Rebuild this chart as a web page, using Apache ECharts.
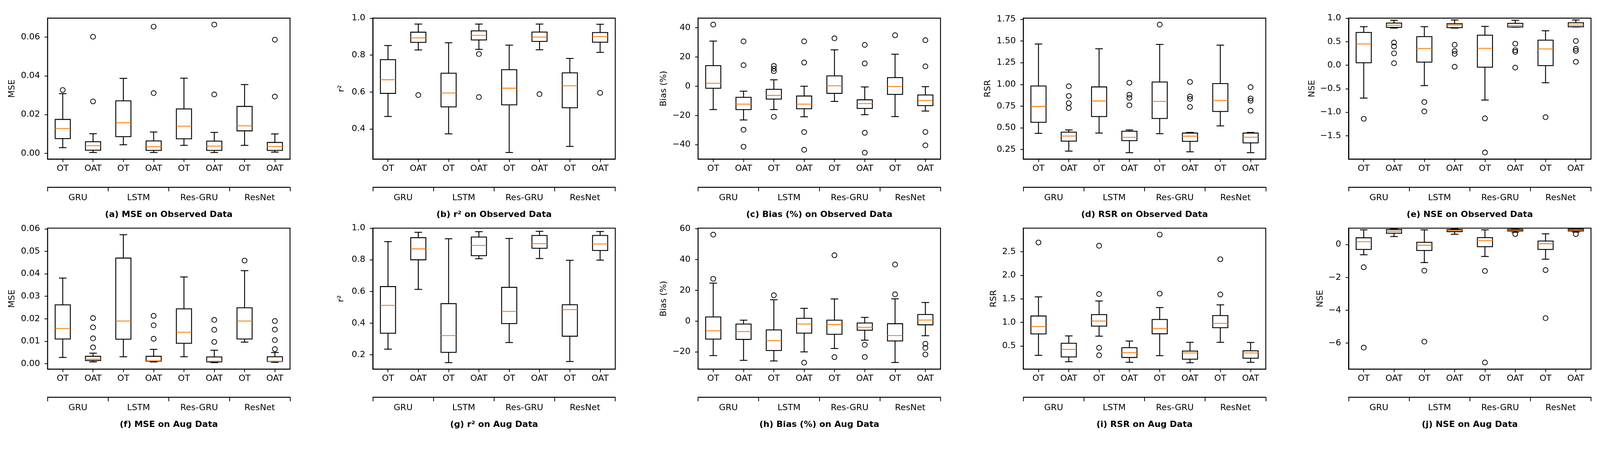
<!DOCTYPE html>
<html>
<head>
<meta charset="utf-8">
<script src="https://cdn.jsdelivr.net/npm/echarts@6/dist/echarts.min.js"></script>
<style>
html,body{margin:0;padding:0;background:#fff;overflow:hidden;}
#chart{width:100vw;height:100vh;}
</style>
</head>
<body>
<div id="chart"></div>
<script>
// ---------------- DATA ----------------
const categories = ['OT','OAT','OT','OAT','OT','OAT','OT','OAT'];
const groups = ['GRU','LSTM','Res-GRU','ResNet'];

// each box: [lower whisker, Q1, median, Q3, upper whisker]
const mseObsBox = [
  [0.0029,0.0076,0.0128,0.0175,0.0308],[0.0004,0.0016,0.0039,0.0060,0.0101],
  [0.0044,0.0086,0.0158,0.0271,0.0387],[0.0004,0.0015,0.0034,0.0064,0.0110],
  [0.0041,0.0075,0.0140,0.0229,0.0388],[0.0004,0.0015,0.0037,0.0063,0.0108],
  [0.0041,0.0116,0.0142,0.0242,0.0355],[0.0006,0.0015,0.0035,0.0056,0.0100]];
const mseObsOut = [[0,0.0327],[1,0.0268],[1,0.0602],[3,0.0311],[3,0.0654],[5,0.0304],[5,0.0665],[7,0.0293],[7,0.0587]];
const mseObsTicks = [0,0.02,0.04,0.06];

const r2ObsBox = [
  [0.468,0.593,0.667,0.7755,0.852],[0.828,0.869,0.893,0.924,0.968],
  [0.374,0.520,0.595,0.702,0.867],[0.831,0.882,0.907,0.931,0.968],
  [0.273,0.531,0.621,0.721,0.854],[0.829,0.874,0.898,0.925,0.968],
  [0.306,0.515,0.634,0.704,0.782],[0.815,0.870,0.900,0.922,0.967]];
const r2ObsOut = [[1,0.584],[3,0.806],[3,0.573],[5,0.589],[7,0.596]];
const r2ObsTicks = [0.4,0.6,0.8,1.0];

const biasObsBox = [
  [-16.0,-1.4,2.0,14.1,30.9],[-23.1,-16.0,-12.3,-7.6,-3.4],
  [-16.0,-8.8,-6.3,-2.1,4.4],[-20.9,-15.4,-12.3,-6.7,0.0],
  [-10.4,-4.9,0.3,7.1,24.9],[-19.5,-15.2,-11.9,-9.3,-0.5],
  [-20.8,-5.6,-0.2,5.9,21.9],[-17.0,-13.3,-9.8,-6.0,-0.3]];
const biasObsOut = [[0,42.2],[1,30.7],[1,14.4],[1,-29.8],[1,-41.4],[2,13.9],[2,12.0],[2,10.3],[2,-20.9],
  [3,30.7],[3,16.2],[3,-31.4],[3,-43.5],[4,32.8],[5,28.3],[5,15.6],[5,-31.9],[5,-45.5],
  [6,34.9],[7,31.5],[7,13.6],[7,-31.3],[7,-40.5]];
const biasObsTicks = [-40,-20,0,20,40];

const rsrObsBox = [
  [0.436,0.563,0.746,0.982,1.466],[0.231,0.346,0.405,0.450,0.475],
  [0.439,0.630,0.809,0.971,1.411],[0.213,0.352,0.390,0.460,0.475],
  [0.432,0.607,0.804,1.028,1.461],[0.223,0.344,0.403,0.439,0.447],
  [0.522,0.688,0.815,1.010,1.453],[0.213,0.326,0.391,0.439,0.447]];
const rsrObsOut = [[1,0.979],[1,0.867],[1,0.784],[1,0.728],[3,1.020],[3,0.881],[3,0.845],[3,0.760],
  [4,1.690],[5,1.029],[5,0.861],[5,0.833],[5,0.740],[7,0.969],[7,0.838],[7,0.812],[7,0.697]];
const rsrObsTicks = [0.25,0.5,0.75,1.0,1.25,1.5,1.75];

const nseObsBox = [
  [-0.699,0.051,0.452,0.696,0.819],[0.789,0.804,0.849,0.895,0.955],
  [-0.434,0.066,0.355,0.608,0.819],[0.789,0.798,0.855,0.883,0.961],
  [-0.741,-0.042,0.358,0.639,0.825],[0.810,0.813,0.846,0.889,0.955],
  [-0.373,-0.009,0.346,0.533,0.732],[0.813,0.816,0.852,0.901,0.961]];
const nseObsOut = [[0,-1.139],[1,0.482],[1,0.398],[1,0.253],[1,0.042],[2,-0.783],[2,-0.982],
  [3,0.434],[3,0.301],[3,0.241],[3,-0.033],[4,-1.130],[4,-1.855],[5,0.458],[5,0.319],[5,0.283],[5,-0.051],
  [6,-1.105],[7,0.515],[7,0.349],[7,0.307],[7,0.072]];
const nseObsTicks = [-1.5,-1.0,-0.5,0,0.5,1.0];

const mseAugBox = [
  [0.0028,0.0110,0.0157,0.0262,0.0381],[0.0008,0.0014,0.0020,0.0033,0.0047],
  [0.0031,0.0109,0.0190,0.0470,0.0574],[0.0008,0.0011,0.0013,0.0033,0.0064],
  [0.0031,0.0091,0.0140,0.0244,0.0386],[0.0005,0.0008,0.0011,0.0030,0.0060],
  [0.0096,0.0110,0.0190,0.0249,0.0414],[0.0006,0.0010,0.0011,0.0031,0.0050]];
const mseAugOut = [[1,0.0073],[1,0.0113],[1,0.0162],[1,0.0203],[3,0.0111],[3,0.0171],[3,0.0213],
  [5,0.0097],[5,0.0151],[5,0.0195],[6,0.0459],[7,0.0065],[7,0.0105],[7,0.0152],[7,0.0190]];
const mseAugTicks = [0,0.01,0.02,0.03,0.04,0.05,0.06];

const r2AugBox = [
  [0.235,0.336,0.512,0.631,0.915],[0.613,0.800,0.869,0.940,0.974],
  [0.150,0.215,0.321,0.523,0.933],[0.807,0.826,0.891,0.944,0.978],
  [0.277,0.397,0.474,0.626,0.935],[0.808,0.873,0.902,0.954,0.980],
  [0.157,0.317,0.485,0.516,0.797],[0.798,0.859,0.900,0.954,0.979]];
const r2AugOut = [];
const r2AugTicks = [0.2,0.4,0.6,0.8,1.0];

const biasAugBox = [
  [-22.4,-11.7,-6.3,2.7,24.7],[-25.5,-11.9,-6.8,-1.9,0.6],
  [-25.9,-19.1,-12.7,-5.7,13.9],[-20.0,-7.8,-1.9,1.8,8.3],
  [-17.8,-8.6,-2.2,0.6,14.4],[-12.4,-5.9,-4.0,-1.2,2.4],
  [-26.9,-12.9,-9.4,-1.7,14.5],[-9.5,-2.4,0.7,4.3,12.1]];
const biasAugOut = [[0,27.5],[0,56.2],[2,16.8],[3,-27.0],[4,42.8],[4,-23.4],[5,-15.4],[5,-23.3],
  [6,17.4],[6,36.8],[7,-14.7],[7,-17.4],[7,-21.7]];
const biasAugTicks = [-20,0,20,40,60];

const rsrAugBox = [
  [0.301,0.756,0.913,1.136,1.542],[0.166,0.268,0.428,0.557,0.714],
  [0.708,0.922,1.030,1.166,1.455],[0.154,0.256,0.358,0.464,0.605],
  [0.295,0.759,0.870,1.063,1.316],[0.145,0.220,0.352,0.392,0.578],
  [0.578,0.889,0.979,1.145,1.373],[0.154,0.241,0.352,0.398,0.575]];
const rsrAugOut = [[0,2.696],[2,1.602],[2,2.627],[2,0.461],[2,0.304],[4,1.611],[4,2.864],[6,1.593],[6,2.340]];
const rsrAugTicks = [0.5,1.0,1.5,2.0,2.5];

const nseAugBox = [
  [-0.622,-0.294,0.173,0.415,0.898],[0.49,0.69,0.81,0.92,0.96],
  [-1.097,-0.363,-0.043,0.138,0.898],[0.63,0.79,0.87,0.92,0.95],
  [-0.725,-0.130,0.242,0.423,0.898],[0.75,0.83,0.88,0.93,0.97],
  [-0.889,-0.294,0.052,0.216,0.656],[0.76,0.83,0.88,0.94,0.97]];
const nseAugOut = [[0,-1.382],[0,-6.278],[2,-1.589],[2,-5.915],[4,-1.606],[4,-7.185],[5,0.64],
  [6,-1.554],[6,-4.482],[7,0.64]];
const nseAugTicks = [-6,-4,-2,0];

const panels = [
  {box:mseObsBox, out:mseObsOut, ticks:mseObsTicks, dec:2, yMin:-0.0030, yMax:0.0698, yName:'MSE', title:'(a) MSE on Observed Data'},
  {box:r2ObsBox, out:r2ObsOut, ticks:r2ObsTicks, dec:1, yMin:0.2374, yMax:1.0, yName:'r\u00B2', title:'(b) r\u00B2 on Observed Data'},
  {box:biasObsBox, out:biasObsOut, ticks:biasObsTicks, dec:0, yMin:-49.9, yMax:46.6, yName:'Bias (%)', title:'(c) Bias (%) on Observed Data'},
  {box:rsrObsBox, out:rsrObsOut, ticks:rsrObsTicks, dec:2, yMin:0.139, yMax:1.764, yName:'RSR', title:'(d) RSR on Observed Data'},
  {box:nseObsBox, out:nseObsOut, ticks:nseObsTicks, dec:1, yMin:-1.996, yMax:1.0, yName:'NSE', title:'(e) NSE on Observed Data'},
  {box:mseAugBox, out:mseAugOut, ticks:mseAugTicks, dec:2, yMin:-0.0024, yMax:0.0603, yName:'MSE', title:'(f) MSE on Aug Data'},
  {box:r2AugBox, out:r2AugOut, ticks:r2AugTicks, dec:1, yMin:0.109, yMax:1.0, yName:'r\u00B2', title:'(g) r\u00B2 on Aug Data'},
  {box:biasAugBox, out:biasAugOut, ticks:biasAugTicks, dec:0, yMin:-31.2, yMax:60.4, yName:'Bias (%)', title:'(h) Bias (%) on Aug Data'},
  {box:rsrAugBox, out:rsrAugOut, ticks:rsrAugTicks, dec:1, yMin:0.009, yMax:3.0, yName:'RSR', title:'(i) RSR on Aug Data'},
  {box:nseAugBox, out:nseAugOut, ticks:nseAugTicks, dec:0, yMin:-7.59, yMax:1.0, yName:'NSE', title:'(j) NSE on Aug Data'}
];

// ---------------- LAYOUT ----------------
const el = document.getElementById('chart');
const chart = echarts.init(el, null, {renderer:'canvas'});
const s = Math.min(chart.getWidth() / 4270, chart.getHeight() / 1171);
const FONT = 'DejaVu Sans';
const FS = 23 * s;
const plotLeft0 = 127, colStep = 868, plotW = 647;
const rowTops = [48.5, 609.5], plotH = 376.5;
const yNameGaps = [83, 72, 80, 83, 86, 83, 73, 80, 67, 64];
const LW = 2.4 * s;

function fmt(dec){
  return function(v){
    const t = Math.abs(v).toFixed(dec);
    return (v < 0 && parseFloat(t) !== 0 ? '\u2212' : '') + t;
  };
}

function renderBox(params, api){
  const i = api.value(0);
  const lo = api.coord([i, api.value(1)]);
  const q1 = api.coord([i, api.value(2)]);
  const md = api.coord([i, api.value(3)]);
  const q3 = api.coord([i, api.value(4)]);
  const hi = api.coord([i, api.value(5)]);
  const bw = api.size([1, 0])[0] * 0.5;
  const cx = lo[0];
  const cap = bw / 2;
  const blk = {stroke:'#000', lineWidth:LW, fill:null};
  return {
    type:'group',
    children:[
      {type:'line', shape:{x1:cx, y1:q1[1], x2:cx, y2:lo[1]}, style:blk},
      {type:'line', shape:{x1:cx, y1:q3[1], x2:cx, y2:hi[1]}, style:blk},
      {type:'line', shape:{x1:cx-cap/2, y1:lo[1], x2:cx+cap/2, y2:lo[1]}, style:blk},
      {type:'line', shape:{x1:cx-cap/2, y1:hi[1], x2:cx+cap/2, y2:hi[1]}, style:blk},
      {type:'rect', shape:{x:cx-bw/2, y:q3[1], width:bw, height:q1[1]-q3[1]}, style:{stroke:'#000', lineWidth:LW, fill:'rgba(0,0,0,0)'}},
      {type:'line', shape:{x1:cx-bw/2, y1:md[1], x2:cx+bw/2, y2:md[1]}, style:{stroke:'#ff7f0e', lineWidth:LW}}
    ]
  };
}

const grid = [], xAxis = [], yAxis = [], series = [], graphic = [];
panels.forEach((p, k) => {
  const r = Math.floor(k / 5), c = k % 5;
  const left = (plotLeft0 + c * colStep) * s, top = rowTops[r] * s;
  const w = plotW * s, h = plotH * s;
  grid.push({left:left, top:top, width:w, height:h, show:true, borderColor:'#000', borderWidth:LW, backgroundColor:'#fff'});
  xAxis.push({
    type:'category', gridIndex:k, data:categories, boundaryGap:true,
    axisLine:{show:true, onZero:false, lineStyle:{color:'#000', width:LW}},
    axisTick:{show:true, alignWithLabel:true, length:8*s, lineStyle:{color:'#000', width:2*s}},
    axisLabel:{interval:0, color:'#000', fontFamily:FONT, fontSize:FS, margin:14*s},
    splitLine:{show:false}
  });
  xAxis.push({
    type:'category', gridIndex:k, data:groups, boundaryGap:true, position:'bottom', offset:75*s,
    axisLine:{show:true, onZero:false, lineStyle:{color:'#000', width:LW}},
    axisTick:{show:true, alignWithLabel:false, interval:0, length:11*s, lineStyle:{color:'#000', width:2*s}},
    axisLabel:{interval:0, color:'#000', fontFamily:FONT, fontSize:FS, margin:17*s},
    splitLine:{show:false}
  });
  yAxis.push({
    type:'value', gridIndex:k, min:p.yMin, max:p.yMax,
    name:p.yName, nameLocation:'middle', nameRotate:90, nameGap:yNameGaps[k]*s,
    nameTextStyle:{color:'#000', fontFamily:FONT, fontSize:FS},
    axisLine:{show:true, onZero:false, lineStyle:{color:'#000', width:LW}},
    axisTick:{show:true, length:8*s, customValues:p.ticks, lineStyle:{color:'#000', width:2*s}},
    axisLabel:{customValues:p.ticks, formatter:fmt(p.dec), color:'#000', fontFamily:FONT, fontSize:FS, margin:20*s},
    splitLine:{show:false}
  });
  series.push({
    type:'custom', xAxisIndex:2*k, yAxisIndex:k, renderItem:renderBox,
    data:p.box.map((b, i) => [i].concat(b)),
    encode:{x:0, y:[1,2,3,4,5]}, z:2, silent:true
  });
  series.push({
    type:'scatter', xAxisIndex:2*k, yAxisIndex:k, data:p.out,
    symbol:'circle', symbolSize:13*s, z:3, silent:true,
    itemStyle:{color:'rgba(0,0,0,0)', borderColor:'#000', borderWidth:2*s, opacity:1}
  });
  graphic.push({
    type:'text', x:left + w / 2, y:top + h + 149 * s,
    style:{text:p.title, font:'bold ' + FS + 'px "DejaVu Sans"', fill:'#000',
      textAlign:'center', textVerticalAlign:'middle', align:'center', verticalAlign:'middle'}
  });
});

chart.setOption({
  animation:false,
  backgroundColor:'#fff',
  grid:grid, xAxis:xAxis, yAxis:yAxis, series:series, graphic:graphic
});
</script>
</body>
</html>
